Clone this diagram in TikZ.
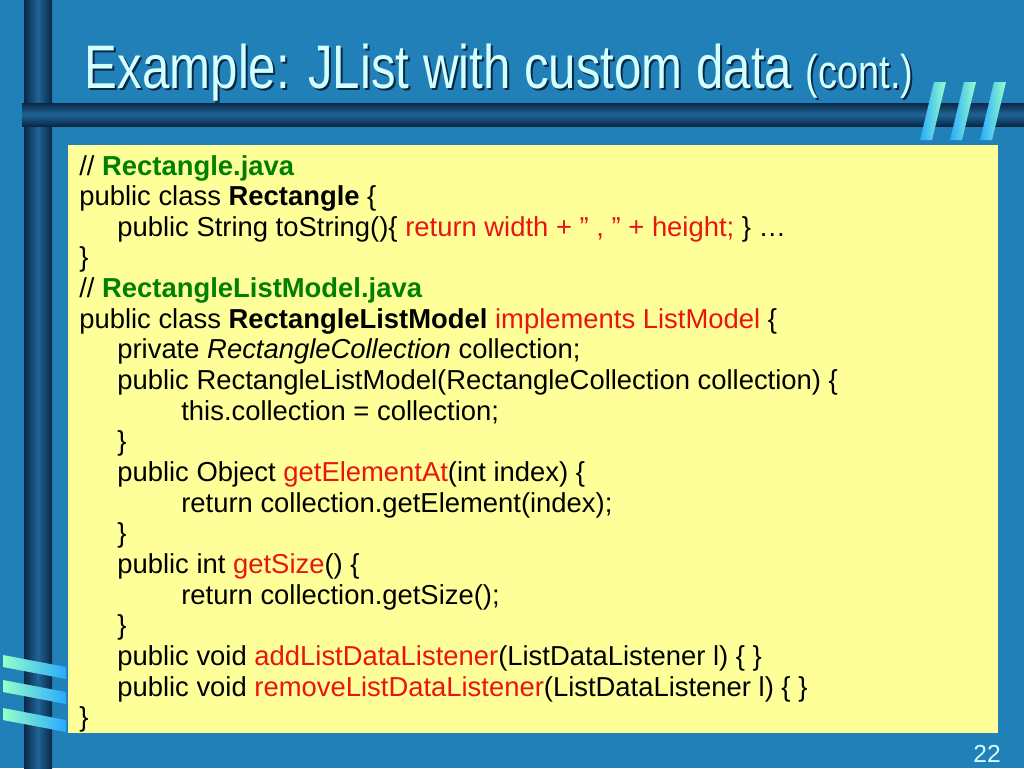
\documentclass[tikz,border=0pt]{standalone}
\usepackage{fontspec}
\setmainfont{Liberation Sans}
\usetikzlibrary{positioning}
\definecolor{slidebg}{RGB}{34,128,184}
\definecolor{bardark}{RGB}{10,40,70}
\definecolor{barmid}{RGB}{30,100,150}
\definecolor{codebg}{RGB}{255,255,153}
\definecolor{titlefg}{RGB}{210,255,255}
\definecolor{kwred}{RGB}{235,20,20}
\definecolor{fgreen}{RGB}{0,128,0}
\definecolor{ribbonA}{RGB}{40,170,255}
\definecolor{ribbonB}{RGB}{150,255,200}
\tikzset{
  code/.style={anchor=base west, inner sep=0pt, font=\fontsize{15.6}{18}\selectfont},
  ribbon/.style={left color=ribbonA, right color=ribbonB, draw=none},
}
\newcommand{\kw}[1]{\textcolor{kwred}{#1}}
\newcommand{\fn}[1]{\textcolor{fgreen}{\textbf{#1}}}
\begin{document}
\begin{tikzpicture}[x=0.02cm,y=-0.02cm]

\fill[slidebg] (0,0) rectangle (1024,768);
\useasboundingbox (0,0) rectangle (1024,768);

% frame bars
\shade[left color=bardark, right color=bardark, middle color=barmid] (24,0) rectangle (52,768);
\shade[top color=bardark, bottom color=bardark, middle color=barmid] (22,103) rectangle (1024,126);

% title with shadow
\node[anchor=base west, text=bardark, font=\fontsize{35}{40}\selectfont, xscale=0.80] at (82,90)
  {Example: JList with custom data {\fontsize{27}{30}\selectfont(cont.)}};
\node[anchor=base west, text=titlefg, font=\fontsize{35}{40}\selectfont, xscale=0.80] (title) at (80,88)
  {Example: JList with custom data {\fontsize{27}{30}\selectfont(cont.)}};

% ribbons top right
\foreach \x in {920,950,980}
  \shade[ribbon] (\x,140) -- (\x+14,82) -- (\x+26,82) -- (\x+12,140) -- cycle;

% code box
\fill[codebg] (68,145) rectangle (998,733);

% ribbons bottom left
\foreach \y in {665,690,718}
  \shade[ribbon, left color=ribbonB, right color=ribbonA] (3,\y-10) -- (66,\y+2) -- (66,\y+14) -- (3,\y+2) -- cycle;

\def\lh{30.65}
\node[code] (l1)  at (79,{175+0*\lh})  {// \fn{Rectangle.java}};
\node[code] (l2)  at (79,{175+1*\lh})  {public class \textbf{Rectangle} \{};
\node[code] (l3)  at (117,{175+2*\lh}) {public String toString()\{ \kw{return width + " , " + height;} \} \dots};
\node[code] (l4)  at (79,{175+3*\lh})  {\}};
\node[code] (l5)  at (79,{175+4*\lh})  {// \fn{RectangleListModel.java}};
\node[code] (l6)  at (79,{175+5*\lh})  {public class \textbf{RectangleListModel} \kw{implements ListModel} \{};
\node[code] (l7)  at (117,{175+6*\lh}) {private \textit{RectangleCollection} collection;};
\node[code] (l8)  at (117,{175+7*\lh}) {public RectangleListModel(RectangleCollection collection) \{};
\node[code] (l9)  at (181,{175+8*\lh}) {this.collection = collection;};
\node[code] (l10) at (117,{175+9*\lh}) {\}};
\node[code] (l11) at (117,{175+10*\lh}) {public Object \kw{getElementAt}(int index) \{};
\node[code] (l12) at (181,{175+11*\lh}) {return collection.getElement(index);};
\node[code] (l13) at (117,{175+12*\lh}) {\}};
\node[code] (l14) at (117,{175+13*\lh}) {public int \kw{getSize}() \{};
\node[code] (l15) at (181,{175+14*\lh}) {return collection.getSize();};
\node[code] (l16) at (117,{175+15*\lh}) {\}};
\node[code] (l17) at (117,{175+16*\lh}) {public void \kw{addListDataListener}(ListDataListener l) \{ \}};
\node[code] (l18) at (117,{175+17*\lh}) {public void \kw{removeListDataListener}(ListDataListener l) \{ \}};
\node[code] (l19) at (79,{175+18*\lh})  {\}};

\node[anchor=base east, text=titlefg, font=\fontsize{14}{16}\selectfont] (page) at (1007,762) {22};

\end{tikzpicture}
\end{document}
